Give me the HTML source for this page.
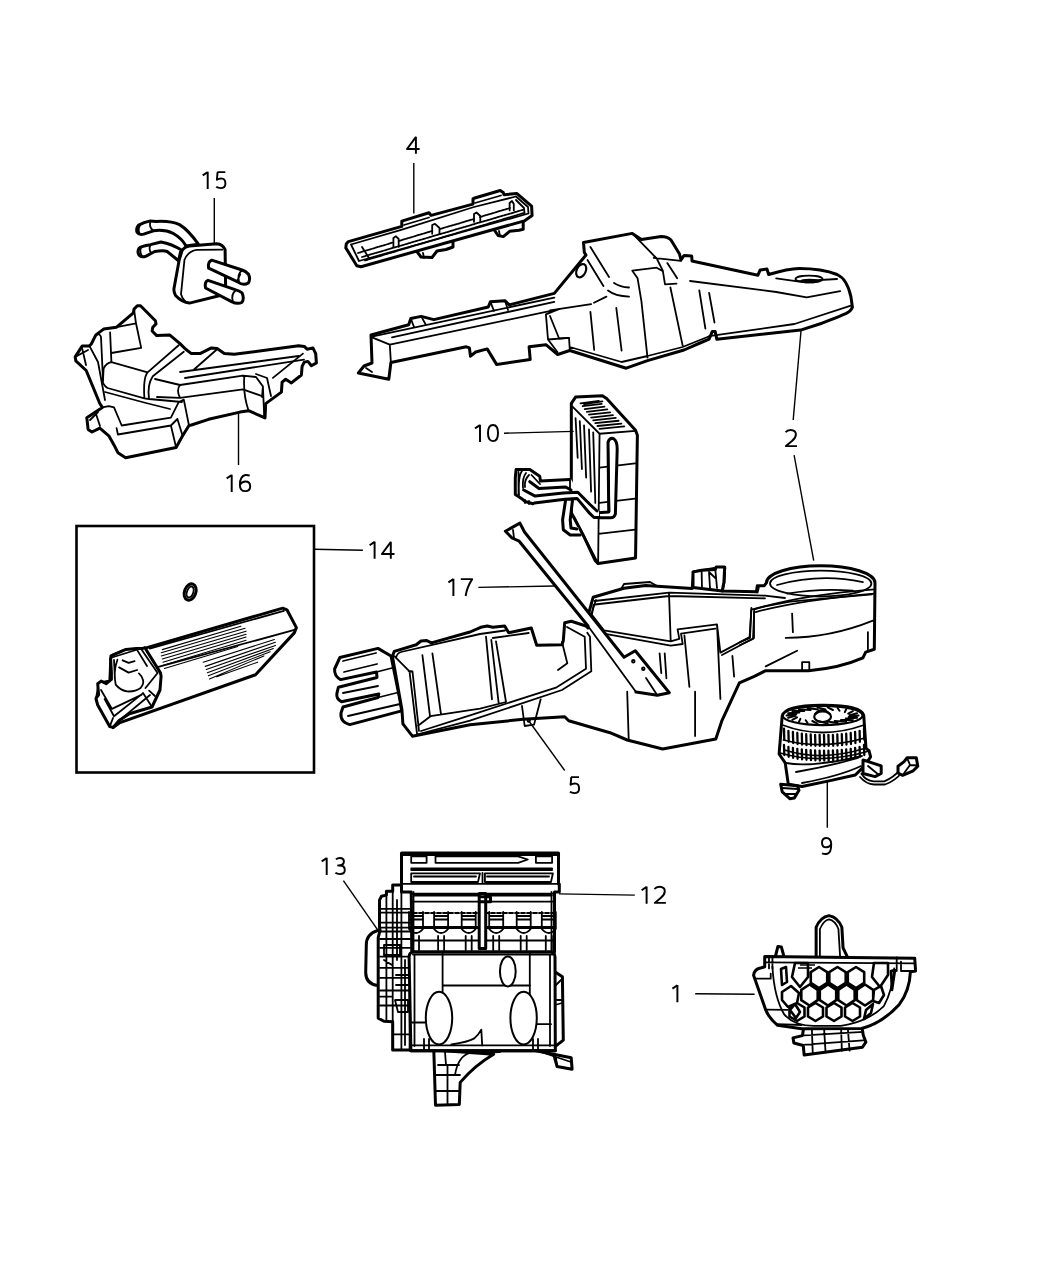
<!DOCTYPE html>
<html><head><meta charset="utf-8">
<style>
html,body{margin:0;padding:0;background:#fff;width:1050px;height:1275px;overflow:hidden}
svg{display:block;position:absolute;left:0;top:0}
text{font-family:"Liberation Sans",sans-serif;font-size:25px;fill:#000}
.ld{stroke:#000;stroke-width:1.4;fill:none}
.p{stroke:#000;stroke-width:3;vector-effect:non-scaling-stroke;fill:#fff;stroke-linejoin:round;stroke-linecap:round}
.t{stroke:#000;stroke-width:1.8;vector-effect:non-scaling-stroke;fill:none;stroke-linejoin:round;stroke-linecap:round}
</style></head><body>
<svg width="1050" height="1275" viewBox="0 0 1050 1275">
<g id="p15" transform="translate(130,210) scale(0.12381)">
<path class="p" d="M398 400 L420 330 Q440 295 480 290 L700 272 Q750 275 768 320 L772 600 Q760 680 720 692 L480 752 Q420 745 368 690 Q350 660 356 630 Z"/>
<path class="t" d="M440 402 Q470 330 540 322 L745 320 M440 402 L412 680 Q430 740 480 752"/>
<path class="p" d="M552 276 Q470 160 400 118 Q330 85 210 92 L165 88 Q110 100 70 122 Q45 150 58 180 Q75 205 110 195 L190 168 Q280 155 350 190 Q420 230 452 290 Z"/>
<path class="t" d="M165 90 Q150 140 190 168 M80 125 Q60 160 80 195"/>
<path class="p" d="M412 322 Q340 275 250 258 L165 280 Q90 290 72 310 Q55 345 78 370 Q100 385 130 372 L200 335 Q270 325 300 335 L392 410 Z"/>
<path class="t" d="M165 282 Q150 320 168 342 M90 300 Q75 335 95 370"/>
<path class="p" d="M660 405 Q625 420 635 470 L870 580 Q915 615 955 590 Q975 560 958 520 Q935 495 905 485 Z"/>
<path class="t" d="M905 487 Q865 520 880 575 M890 520 L870 565"/>
<path class="p" d="M630 568 Q600 580 610 630 L820 740 Q870 765 905 745 Q925 715 905 670 Q880 650 855 645 Z"/>
<path class="t" d="M855 648 Q815 680 830 735"/>
</g>
<g id="p16">
<path class="p" d="M134 309.1 L137.3 305.8 L140.5 305.8 L155.4 320.7 L156 323.9 L152.8 327.2 L152.1 331 L156.7 335.6 L169.6 334.9 L180 343.6 L185.7 349.3 L191.4 353.6 L200 353.6 L211.4 347.9 L217.1 348.6 L224.3 353.6 L234.3 354.3 L298.6 345.7 L304.3 346.4 L307.1 349.3 L312.9 347.9 L315.7 353.6 L316.4 362.9 L311.4 365.7 L307.9 361.4 L304.3 362.1 L302.1 366.4 L301.4 375 L291.4 382.9 L285.7 379.3 L282.1 382.1 L281.4 392.1 L265.7 403.6 L265 417.9 L248.6 410.7 L240 412.1 L208.6 419.3 L191.4 425 L189 425.5 L182.6 435.8 L176.1 447.5 L125.6 457.8 L117.9 452.7 L114 444.9 L108.8 435.8 L99.8 428.1 L92 432 L88.1 429.4 L86.8 417.7 L102.3 407.4 L99.8 403.5 L86.2 370.5 L75.8 360.8 L75.2 356.9 L82.3 345.9 L89.4 345.9 L91.3 344 L95.9 334.9 L103.6 329.1 L116.6 327.2 L133.4 312.9 Z"/>
<path class="t" d="M116.6 327.2 L136 323.3 L141.2 347.9 L111.4 353 M134 309.1 L136 323.3 M110.1 332.3 L111.4 362.1 M95.9 334.9 Q100 333 101 337 L103 380 M89.4 345.9 L98 362 L105 400 M75.2 356.9 L88 350 M82.3 349 L86 365"/>
<path class="t" d="M111.4 362.1 L147.6 372.4 Q143 378 144.4 398.3 L107.5 388 Q102 384 103 380.2 L103.6 368.6 Q106 363 111.4 362.1 Z M147.6 372.4 L178.7 345.2 M152.8 376.3 L183.8 351.7 M144.4 398.3 L149 399 Q147 385 152.8 376.3 M105 392 L146 403 L170 409 M149 399 L182 402"/>
<path class="t" d="M155 379 L180 385 L242.9 375.7 L244.3 376.4 M157 397 L180 397.9 L242.9 389.3 L262.9 396.4 M180 385 Q176 390 180 397.9 M194.3 369.3 L217.1 349.3 M180 372 L298.6 356 M185 378 L304 359.6"/>
<path class="t" d="M244.3 376.4 Q243 395 248.6 410.7 M242.9 375.7 L256 377 L262.9 386.4 L264.3 417.9 M256 374 L267 378 L271 396 M272.9 377.9 L302.9 353.6 M262.9 386.4 L262 397"/>
<path class="t" d="M102.3 407.4 L108.8 406.1 L114 407.4 L121.7 425.5 L170.9 417.7 L178.7 402.2 L183.8 399.6 L189 425.5 M116.6 428.1 L117.9 434.5 L170.9 425.5 L177.4 419 L182.6 435.8 M170.9 425.5 L176 447 M96 414 L100 426 M90 420 L98 412"/>
</g>
<g id="p4">
<path class="p" d="M415 249 L421 257 L432 257.5 L437 251 L446 249.5 L453 247 L453 238 Z"/>
<path class="p" d="M492.9 228 L498.1 235.5 L503.3 236.6 L509.6 231.3 L519 230.3 L523.2 229.2 L523.2 217 Z"/>
<path class="t" d="M423 253 L424 258 M499 231 L500 236"/>
<path class="p" d="M348.4 241.6 L401.8 226.4 L401.8 221.1 L429 212.8 L431.1 215.4 L473 204.1 L473 198.9 L474 198.3 L500.2 190.5 L503.3 192.6 L503.9 194.7 L517 193.6 L531.6 206.2 L532.1 215.6 L524.3 220.9 L361 266.7 L356.8 265.7 L345.8 247.9 L346.3 243.7 Z"/>
<path class="t" d="M351 244.5 L402 229.6 L474 207 L516 196.5 L528 207 L528.5 213.5 M351 244.5 L359 261 L528.5 213.5 M362 247 L369 258 M404 225 L429 217.5 M475 203 L501 195.5 M516 200 L524 208 L524.5 213"/>
<path class="t" d="M358 253 L393 242.5 M398.7 241 L432 231 M440 229 L474 219 M480 217 L510 208 M362 257 L524 209.5 M365 260.5 L524 213" style="stroke-dasharray:2.5 1.2"/>
<path class="t" d="M393.4 246.8 L393.4 238 L396 236.3 L398.7 239 L398.7 246.8 M432.2 233.8 L432.2 225 L435 223.8 L439.5 228 L439.5 234 M474 221.9 L474 214 L476.5 212.5 L480.3 216 L480.3 221.9 M509.6 210.4 L509.6 203 L512 201 L513.8 204 L513.8 210.4"/>
</g>
<g id="p2u">
<path class="p" d="M358.4 373 L364 366 L372 363 L371 335 L408.7 324.8 L410.8 318.5 L421.2 316.4 L433.8 319.6 L488.3 307 L490.4 301.8 L505 300.7 L509.2 304.9 L554.3 293.4 L586 255 L584.3 252.4 L583.5 242.5 L632.3 233.4 L641.4 239.5 L661.2 236.4 C666 236.5 669 238 671 240 L679.5 254 L681 260 L684 255.5 L691.7 256 L692 261 L757.9 275.2 L760.2 269.9 L767 269.1 L768.6 274.5 C780 271 790 268.4 799 268.4 C812 268.4 826 270 837.1 274.5 C845 278 849 288 850.9 296.6 L852.4 307.2 C851 311 849 312 846.3 313.3 C838 317 830 320 821.9 323.2 L800.6 330.1 L716.8 339.2 L715.2 331.6 L712.2 331.6 L709.1 339.2 L700 343 L684 350 L647.5 360.6 L626.2 368.2 L569.8 350.5 L557.6 354.5 L545.9 344.7 L529.1 346.8 L530.2 359.4 L496.7 364.6 L487.2 348.9 L475.7 352 L470.5 356.2 L469.4 347.9 L466.3 346.8 L390.9 362.5 L388.8 379.3 Z"/>
<path class="t" d="M373 336.3 L554.3 297.6 M392 337.4 L554.3 301.8 M372 337.4 L389.8 344.7 L554.3 310.1 M389.8 344.7 L390.9 362.5 M545.9 314.3 L548 339.5 L557.4 352 M545.9 314.3 L559.5 309 M548 339.5 L569 337.8 M410.8 318.5 L414 327 M421.2 316.4 L426 325 M490.4 301.8 L494 311 M505 300.7 L508 310 M366 368 L372 372"/>
<path class="t" d="M632.3 233.4 L656.7 258.5 L662.8 270.7 L665 284.4 L676.5 283.7 M653.6 257.8 L681 260.8 M632.3 270.7 L656.7 267.7 L662 270.7 M632.3 270.7 L637.6 278.3 L641.4 301.2 L647.5 357.6 M590.4 247 L609 277 M587.5 260 L603.4 286 M614 283 Q620 287 629 287.5 M608 290.5 Q615 296 629 296.6 M594 302.7 L606.4 296.6 M550 310.3 L591.1 304.2 M590.4 311.9 L594.2 350 M616.3 308 L621.6 350.7 M670.4 287.5 L682.6 345.4 M699.3 290.5 L705.4 328.6 M709.1 292.8 L714.5 322.5 M667.3 263.1 L677.2 278.3 M569.8 347 L621.6 362 L647.5 356 L682.6 347 L710 336 M550 316 L559.1 338.5 L569 337.8 L569.8 350"/>
<path class="t" d="M690 281 L776.2 292 L806.7 297.3 L840.2 291.2 M776.2 278.3 L797.5 281.3 L837.1 279 M709.1 336.2 L794.5 324 L850.9 305.7"/>
<ellipse class="t" cx="809" cy="279" rx="13.5" ry="3.4"/><ellipse class="t" cx="809.5" cy="281" rx="8" ry="1.2" style="stroke-width:2.2"/>
<ellipse class="t" cx="581.2" cy="270.7" rx="4.5" ry="7" transform="rotate(25 581.2 270.7)" style="stroke-width:2.2"/>
</g>
<g id="p2l">
<path class="p" d="M339.9 657.5 L378 648.4 L391 656 L400 700 L401.6 710.9 L349.8 724.6 Q340 722 341 713 L343 707 L378 697.5 L378.8 694 L341.4 701.7 Q336 699 336.9 693.3 L338.4 687.2 L377 677.5 L376.5 672 L340.7 679.6 Q334 676 334.6 669 Z"/>
<path class="t" d="M344 672 L377 664 M343 693 L378 686 M348 716 L400 704 M343 661 L376 653 M376.5 672 L392 668 M378 697.5 L400 692"/>
<path class="p" d="M392.4 656.2 L394.3 651.4 L416.2 644.8 L421 641 L426.7 640.5 L431.4 642.9 L470 632 L480.7 627.3 L487.3 626 L492.7 627.3 L504.7 626 L508.7 632.7 L531.3 628 L536.7 645.3 L562 644.7 L563.3 640.7 L564.7 622.7 L571.3 621.3 L586 626 L588 628 L588.6 613.6 L593.1 597.3 L623.9 588.2 L645.6 585.5 L692.2 588.4 L693.7 572.1 L718.8 567.7 L724.7 567.7 L723.9 582.3 L722.2 590.9 L756.4 591.7 L757.3 585.7 L757.1 592.1 L758.6 585.7 L764.3 585.7 L766.4 582.9 A54.3 17.2 0 0 1 875 582.9 L874.3 649.3 L865.7 652.1 L862.9 657.9 Q840 668 808.6 670.7 L765.7 670.7 L754.3 676.4 L739.4 682.9 L721.7 721.2 L715.8 739 L662.7 749 L627.2 740 L610 732.7 L568.7 720.7 L564.7 716.7 L523.3 719.3 L470 724.7 L412.4 736.2 L402.9 723.8 L401.9 709.5 Z"/>
<path class="t" d="M394.3 656.2 L409.5 671.4 L417.1 734.3 M408.6 671 L412.5 671.5 L419 731 M396 658 Q397 653 401 652 L480 634 L505 630.5 M492.7 638 L528.7 633 M422.4 655.2 L430 716.2 M432.4 653.3 L441 714.3 M486 636.7 L492 699.3 M491.3 640 L498.7 703.3 M496 641.3 L506 702 M418 725.7 L430.5 716.2 L480 708.6 L506 702"/>
<path class="t" d="M421 731 L470 715.3 L556.7 687.3 L586 668.7 L584.7 636.7 L567 627 M417 734.5 L470 720.7 L562 690 L591.3 671.3 L590 636.7 L587.3 632.7 M562 642 L567.3 663.3 L558 670 M522 706 L524.7 726 L534 724.7 L540.7 699.3"/>
<circle class="t" cx="528.7" cy="720.7" r="1.2"/>
<path class="t" d="M594.4 601 L669 592.6 L765 595.7 L785 598 M595 604.5 L669 596 L765 598.3 M669 593.4 L670.7 640.6 M593.6 604.6 L591.9 614.9 L603.9 630.3 L670.7 641.4 L679.3 638.9 L677.6 629.4 L717 624.3 L720.4 652.6 L749.6 637.1 L751.3 609.7 L765 606.3 L790 601.7 L872 594.3 M603.9 633.7 L670.7 645.7 L682.7 644 L681 633.7 L715.3 628.6 M754 612 L754 638 L722 655 M684.4 635.4 L689.4 686.9 M717 624.3 L720.4 698.9 M659.6 653.4 L661.3 673.1 M664.7 653.4 L666.4 678.3 M732.4 656 L734.1 676.6 M627.2 691.7 L628.7 740 M695.1 691.7 L695.1 736"/>
<path class="p" d="M693 587.4 L693 572 L701.6 570.3 L715.3 569.4 L716.2 566.9 L724.7 566.9 L723.9 582.3 L722.2 590.9 Z"/>
<path class="t" d="M701.6 570.3 L702 588 M709 572 L710 588 M715.3 569.4 L717 588 M709 572 L715.3 578 M621 589.1 L624 584 L650 582 L657 586"/>
<ellipse class="t" cx="820.7" cy="583.6" rx="50.7" ry="12.9"/>
<path class="t" d="M777.1 585 Q820 573 862.9 582.1 M787.1 593.6 Q820 588 852.9 590.7 M754.3 609.3 Q800 595 874.3 589.3 M755.7 612.1 Q800 600 874.3 593.6 M785.7 637.9 Q830 638 872.9 620.7 M792.1 613.6 L792.9 632.1 M867.9 632.1 L867.9 649.3 M765.7 666.4 L797.1 650.7 M802.1 670.7 L802.1 662.1 L809.3 662.1 L809.3 670.7 M751.4 607.9 L750 637.9 L740 642.1 M754.3 609.3 L753 639 L740 645"/>
<path class="t" d="M588 628 L592 612 L596 600"/>
<path d="M505.4 531.2 L519.9 523.1 L524.5 532 L624 657.3 L635.3 650.7 L669.3 692.7 L657.3 695.3 L636 692 L593.3 635.3 L588 626 L519.2 541.2 L512 538 Z" fill="#fff" stroke="none"/>
<path class="p" style="fill:none" d="M588 626 L519.2 541.2 L512 538 L505.4 531.2 L519.9 523.1 L524.5 532 L624 657.3 M624 657.3 L635.3 650.7 L669.3 692.7 L657.3 695.3 L636 692"/>
<path class="t" d="M588 626 L636 692 M513 530 L514 538 M646 678 L657.3 695.3"/>
<circle class="t" cx="633.3" cy="661.3" r="1.3"/><circle class="t" cx="643.3" cy="668.7" r="1.3"/>
</g>
<g id="p10" transform="translate(505,390) scale(0.141129)">
<path class="p" d="M470 95 L500 50 L690 40 L720 60 L925 285 L938 320 L925 1190 L660 1230 L640 1210 L560 1040 L470 870 L470 630 Z"/>
<path class="t" d="M480 120 L670 310 L925 290 M670 310 L660 1225 M670 550 L922 520 M670 800 L922 770 M662 1020 L922 990 M490 900 L650 1210"/>
<path class="t" d="M535 95 L665 78 M550 115 L685 98 M565 135 L705 118 M580 155 L725 138 M595 175 L745 158 M610 195 L765 178 M625 215 L785 198 M640 235 L805 218 M655 255 L825 238 M670 275 L845 258 M560 100 L690 80"/>
<path class="t" d="M500 200 L515 480 M530 220 L545 560 M560 250 L575 620 M595 280 L610 720 M625 300 L640 800"/>
<path class="p" d="M730 370 Q740 335 770 345 Q795 360 795 420 L782 880 Q770 910 740 905 L665 905 L660 870 L735 865 Z"/>
<path class="t" d="M730 370 L740 860"/>
<g transform="scale(7.0857) translate(-505,-390)">
<path d="M516.1 469.5 L529.8 469.5 L539.7 476.3 L540.5 480.9 L569.4 479.4 L571 479 L577.8 492.3 L599 511 L599 517.5 L590 513.7 L577 498.4 L572.5 500 L565.6 500 L562.6 519.8 L563.3 529.7 L570.2 535 L580.1 535 L578 527 L571 528 L570.2 519.8 L572.5 500 L564.9 499.2 L534.4 503 L532.9 503.8 L525.2 501.5 L521.4 498.4 L515.3 494.6 L515.3 477.9 Z" fill="#fff" stroke="none"/>
<path class="p" style="fill:none" d="M516.1 469.5 L529.8 469.5 L539.7 476.3 L540.5 480.9 L569.4 479.4 M515.3 477.9 L515.3 494.6 L521.4 498.4 L525.2 501.5 L532.9 503.8 L534.4 503 L564.9 499.2 L577 498.4 L590 513.7 L594 517.5 L599 517.5 M516.1 469.5 L515.3 477.9 M529.8 481.7 L539 488.5 L565.6 487 L571 490 M523.7 490 L535.1 496.1 L563.3 493.1 L577.8 492.3 L590 504.5 L597 511 M565.6 500 L562.6 519.8 L563.3 529.7 L570.2 535 L580.1 535 M572.5 500 L570.2 519.8 L571 528.1 L577 528.9"/>
<path class="t" d="M518.5 472 L518.5 494 M522 471 Q518 476 519 495 M526 473 Q522 478 523 488 M529 475 Q524 480 525 487 M525 500 L525 503 M529 501 L529 504 M531.5 475 L540 484 M570 480 L570 490"/>
</g>
</g>
<g id="p14" transform="translate(90,570) scale(0.209524)">
<ellipse class="p" cx="478" cy="105" rx="27" ry="40" transform="rotate(20 478 105)"/>
<ellipse class="t" cx="478" cy="105" rx="15" ry="27" transform="rotate(20 478 105)"/>
<path class="p" d="M255 375 L920 182 L940 190 L985 275 L975 300 L790 500 L140 730 L110 752 L30 620 L45 540 L95 530 L100 410 L160 385 L225 380 Z"/>
<path class="t" d="M285 375 L925 195 M300 470 L980 285"/>
<path class="t" style="stroke-width:1.1" d="M340 395 L740 278 M340 410 L745 292 M345 425 L745 307 M348 440 L745 320 M350 455 L745 335 M355 470 L705 365 M345 380 L720 268 M550 460 L885 345 M555 475 L885 360 M560 490 L875 375 M565 505 L860 390 M570 520 L830 410 M605 510 L800 440 M540 440 L880 332"/>
<g transform="scale(4.7727) translate(-90,-570)">
<path class="p" d="M144.9 647.7 L142.3 648.6 L136.3 648.6 L126 649.4 L112.3 655.4 L110.6 658.9 L111.4 672.6 L111.4 679.4 L106.3 683.7 L101.1 681.1 L97.7 683.7 L98.6 694.9 L96 698.3 L97.7 705.1 L109.7 726.6 L113.1 727.4 L119.1 720.6 L129.4 713.7 L152 707 L160 690 L161.1 676 L160.3 672.6 Z"/>
<path class="t" d="M141.5 649.5 L157.6 673 L145.5 688 M144.9 647.7 L160.3 672.6 M136.3 648.6 L147 666 M113.5 657 L136 650 M114 660 L115 680 M117.4 659.7 Q113 672 115.7 684.6 Q120 690 126.9 691.4 Q135 692 140.6 688 Q144 684 143.1 680.3 Q142 676 138.9 673.4 M122.6 660.3 L128.6 662.9 L134.6 661.1 M119.1 667.4 L128.6 672.6 L137.1 670 M101 690 L112 708.9 L141.4 694.9 M104.6 699 L114 716.3 L143.1 693.1 M109.7 726.6 L113 718 M119.1 720.6 L150 695 M143 693 L152 707 M149.1 690.6 L155 696"/>
</g>
</g>
<g id="p9">
<path class="t" d="M861.4 773.8 Q866 781 873.6 781.4 L884.3 781.4 Q893 778 901 769.2 M860 777 Q866 784 874 784.5 L885 784.5 Q895 781 902.5 772" style="stroke-width:1.8"/>
<path class="p" d="M898 766.2 L904.1 761.6 L907.1 757.8 L916.3 757.8 L917.8 766.2 L913.2 770.8 L902.6 775.3 L898 773 Z"/>
<path class="t" d="M907.1 757.8 L910 765 L902.6 775.3 M910 765 L917.8 765.5"/>

<path class="p" d="M779.1 754 L782.2 715.9 Q785 705 822.6 705.2 Q861 705 863.7 715.1 L866 748.4 L869 750.7 L870.6 756.8 L864.5 765.9 L855.3 775 L827.9 781.1 L802 786.5 L788.3 784.2 L785.2 762.9 Z"/>
<path class="p" d="M780.7 784.2 L782.2 791.8 L789.8 798.7 L794.4 797.9 L799 790.3 L797.4 785.7 Z"/>
<path class="t" d="M782 788 L798 789 M785 794 L796 794"/>
<path class="p" d="M863 760 L867.5 761.3 L881.2 765.9 L881.2 773.5 L875.1 776.6 L863 773.5 Z"/>
<path class="t" d="M868 766 L879 775"/>
<ellipse class="t" cx="822.6" cy="715.5" rx="40" ry="9.6" style="stroke-width:2.2"/>
<ellipse class="t" cx="822.6" cy="716.7" rx="8.4" ry="5.3" style="stroke-width:2.2"/>
<path class="t" d="M815 714 Q822 706 830 714" style="stroke-width:2"/>
<path class="t" d="M858.6 715.5 L848.8 717.0 M857.1 717.8 L845.8 718.6 M852.9 719.9 L841.0 719.9 M846.2 721.7 L834.7 720.9 M837.6 723.0 L827.4 721.4 M827.7 723.6 L819.7 721.5 M817.5 723.6 L812.3 721.0 M807.6 723.0 L805.7 720.2 M799.0 721.7 L800.4 718.9 M792.3 719.9 L797.0 717.4 M788.1 717.8 L795.6 715.7 M786.6 715.5 L796.4 714.0 M788.1 713.2 L799.4 712.4 M792.3 711.1 L804.2 711.1 M799.0 709.3 L810.5 710.1 M807.6 708.0 L817.8 709.6 M817.5 707.4 L825.5 709.5 M827.7 707.4 L832.9 710.0 M837.6 708.0 L839.5 710.8 M846.2 709.3 L844.8 712.1 M852.9 711.1 L848.2 713.6 M857.1 713.2 L849.6 715.3 " style="stroke-width:2"/>
<path class="t" d="M782.5 725 Q822 740 864 725 M783.5 740 Q822 750 865 738 M784.5 750 Q822 762 866 748 M780 753 Q822 765 869 751 M796 772 Q830 766 858 758 M802 783 Q840 776 861 766 M786 763 Q810 768 862 756"/>
<path class="t" d="M784.0 728.7 L784.3 739.7 M788.4 730.8 L788.7 741.8 M792.9 732.0 L793.2 743.0 M797.3 733.0 L797.6 744.0 M801.8 733.6 L802.1 744.6 M806.2 734.2 L806.5 745.2 M810.7 734.5 L811.0 745.5 M815.1 734.8 L815.4 745.8 M819.6 734.9 L819.9 745.9 M824.0 735.0 L824.3 746.0 M828.4 734.9 L828.7 745.9 M832.9 734.8 L833.2 745.8 M837.3 734.5 L837.6 745.5 M841.8 734.2 L842.1 745.2 M846.2 733.6 L846.5 744.6 M850.7 733.0 L851.0 744.0 M855.1 732.0 L855.4 743.0 M859.6 730.8 L859.9 741.8 M864.0 728.7 L864.3 739.7 " style="stroke-width:2.3"/>
<path class="t" d="M784.0 745.0 L784.3 755.0 M788.4 746.8 L788.7 756.8 M792.9 747.9 L793.2 757.9 M797.3 748.8 L797.6 758.8 M801.8 749.4 L802.1 759.4 M806.2 749.8 L806.5 759.8 M810.7 750.2 L811.0 760.2 M815.1 750.4 L815.4 760.4 M819.6 750.6 L819.9 760.6 M824.0 750.6 L824.3 760.6 M828.4 750.6 L828.7 760.6 M832.9 750.4 L833.2 760.4 M837.3 750.2 L837.6 760.2 M841.8 749.8 L842.1 759.8 M846.2 749.4 L846.5 759.4 M850.7 748.8 L851.0 758.8 M855.1 747.9 L855.4 757.9 M859.6 746.8 L859.9 756.8 M864.0 745.0 L864.3 755.0 " style="stroke-width:2.3"/>
</g>
<g id="p12">
<path class="p" d="M433.8 1050 L435.5 1105.3 L459.3 1104.4 L460.2 1082.4 Q475 1065 493.7 1054.2 Z"/>
<path class="t" d="M438 1065 L459 1065 M447.5 1065 L447.5 1104.5 M436 1075 L460 1075 M436 1091 L460 1091 M455 1075 Q458 1056 470 1053 L500 1052 M445 1052 L446 1065"/>
<path class="p" d="M554.4 971.4 L562.4 976.7 L563.3 1040.1 L554.4 1047.2 Z"/>
<path class="t" d="M556 985 L561 980 M556 1000 L562 1000 M555 1005 L562 1003"/>
<path class="p" d="M392.7 885 L392.7 891.3 L386.4 891.3 L386.4 895.1 L381.4 896.3 L379.5 900.1 L379.5 927.7 L380.1 930.2 L378.2 937.7 L378.2 1018.1 L383.9 1021.2 L392.7 1021.8 L392.7 1050 L412 1050 L412 885 Z"/>
<path class="p" d="M378.2 930.2 Q366 934 366.3 945 L365.7 972.9 Q366 984 377.6 985.4" style="fill:none"/>
<path class="t" d="M386.4 895 L386.4 1020 M392.7 891 L392.7 1050 M401.4 885 L401.4 1050 M397 900 L397 960 M405 960 L405 1045 M380 908.9 L410 908.9 M380 912.6 L410 912.6 M380 922.7 L410 922.7 M380 931.5 L410 931.5 M380 939 L410 939 M380 947.8 L410 947.8 M380 956.6 L410 956.6 M380 967.9 L410 967.9 M380 977.9 L410 977.9 M380 990.5 L410 990.5 M380 1005.5 L410 1005.5 M393 1034.4 L410 1034.4  M381 927.7 L411 927.7 M380 996.7 L392 996.7 M395 1000 L408 1000 L408 1012 L398 1012 Z M384 945 L400 945 L400 955 L384 955 Z M384 960 L392 965 M396 975 L408 975 M396 985 L408 985"/>
<path class="t" d="M410.2 955 L410.2 1050" style="stroke-width:3"/>
<path class="p" d="M401.5 853.1 L558.5 853.1 L558.5 883.9 L559.3 883.9 L559.3 892 L554.5 892 L554.5 952 L412 952 L411.2 892 L401.5 892 Z"/>
<path class="t" d="M401.5 854.5 L558.5 854.5" style="stroke-width:3"/>
<path class="t" d="M411.2 856.3 L426.6 856.3 L426.6 862.8 L411.2 862.8 Z M435.5 856.3 L518.1 856.3 L527.8 859.5 L518.1 862.8 L435.5 862.8 Z M535.9 856.3 L552.1 856.3 L552.1 862.8 L535.9 862.8 Z M411.2 868.5 L552.1 868.5 M411.2 870 L552.1 870 M411.2 873.3 L480 873.3 L478 882 L411.2 882 Z M484.9 873.3 L552.9 873.3 L551 882 L484.9 882 Z M414 876.5 L476 876.5 M487 876.5 L549 876.5 M482.5 873 L482.5 883 M401.5 883.9 L559.3 883.9"/>
<path class="t" d="M411.2 893.6 L554.5 893.6 M414 895.5 L552 895.5 M411.2 901.7 L554.5 901.7 M413 940.5 L553 940.5 M413 951.9 L553 951.9 M413.5 892 L413.5 952 M551.5 892 L551.5 952" />
<path class="t" d="M413 913 L553 913" style="stroke-dasharray:4 2"/>
<path class="t" d="M411.2 927.6 L554.5 927.6" style="stroke-width:3"/>
<path class="t" d="M409 912 L409 929 Q416 937 423 929 L423 912 M410 916 L422 916 M410 919.5 L422 919.5 M413 936 L413 950 M419 936 L419 950 M434.1 912 L434.1 929 Q441.1 937 448.1 929 L448.1 912 M435.1 916 L447.1 916 M435.1 919.5 L447.1 919.5 M438.1 936 L438.1 950 M444.1 936 L444.1 950 M461.7 912 L461.7 929 Q468.7 937 475.7 929 L475.7 912 M462.7 916 L474.7 916 M462.7 919.5 L474.7 919.5 M465.7 936 L465.7 950 M471.7 936 L471.7 950 M489.2 912 L489.2 929 Q496.2 937 503.2 929 L503.2 912 M490.2 916 L502.2 916 M490.2 919.5 L502.2 919.5 M493.2 936 L493.2 950 M499.2 936 L499.2 950 M516.7 912 L516.7 929 Q523.7 937 530.7 929 L530.7 912 M517.7 916 L529.7 916 M517.7 919.5 L529.7 919.5 M520.7 936 L520.7 950 M526.7 936 L526.7 950 M541.8 912 L541.8 929 Q548.8 937 555.8 929 L555.8 912 M542.8 916 L554.8 916 M542.8 919.5 L554.8 919.5 M545.8 936 L545.8 950 M551.8 936 L551.8 950 "/>
<path class="p" d="M479.2 893.6 L485.7 893.6 L485.7 948.6 L479.2 948.6 Z M479.2 896.8 L490.5 896.8 L490.5 901.7 L479.2 901.7 Z"/>
<path class="p" d="M414 952 L550 952 Q555 952 555 957 L555.3 1050.7 L410.9 1050.7 L409.1 957 Q409.1 952 414 952 Z"/>
<path class="t" d="M413 954.5 L553 954.5 M414.5 955 L414.5 1046 M550 955 L550 1046 M412 1045.4 L554 1045.4 M442.6 952 L442.6 985.5 L529.8 985.5 L529.8 1000 M442.6 985.5 L442.6 992 M412 1022.5 L425 1022.5 M537 1024.2 L551 1024.2"/>
<path class="t" d="M410.9 1050.7 L555.3 1050.7" style="stroke-width:3"/>
<path class="t" d="M529.8 952 L529.8 985.5"/>
<path class="p" d="M536 1050.7 L571.2 1057.8 L572.1 1069.2 L557.1 1066.6 L553.6 1054.2 Z"/>
<path class="t" d="M541 1052 L571 1062 M557.1 1066.6 L556 1058"/>

<ellipse class="t" cx="439" cy="1018.1" rx="13.2" ry="26.4" style="fill:#fff;stroke-width:2"/>
<ellipse class="t" cx="523.6" cy="1018.1" rx="13.2" ry="26.4" style="fill:#fff;stroke-width:2"/>
<ellipse class="t" cx="507.8" cy="971.4" rx="7.9" ry="15" style="fill:#fff;stroke-width:2"/>
<path class="t" d="M451.4 1044.5 Q468 1042 474.3 1038.4 Q479 1034 481.3 1029.6 L482.2 1045.4 M424 1039 L424 1050 M429 1039 L429 1050 M533 1039 L533 1050 M538 1039 L538 1050"/>
</g>
<g id="p1" transform="translate(745,905) scale(0.171429)">
<path class="p" d="M415 312 L415 130 Q440 70 490 62 Q540 70 565 130 L572 250 L600 308 Z"/>
<path class="t" d="M437 305 L437 140 Q460 88 490 84 Q525 90 545 140 L555 305"/>
<path class="p" d="M175 310 L192 242 L212 245 L230 310 Z"/>
<path class="p" d="M280 775 L335 762 L345 700 L680 700 L690 760 L705 800 L685 830 L345 875 L340 820 L285 805 Z"/>
<path class="t" d="M345 760 L690 740 M350 815 L690 790 M460 700 L470 860 M560 700 L565 850 M600 720 L610 850 M390 720 L395 860"/>
<path class="p" d="M50 410 Q55 375 90 368 L115 360 L115 300 L990 310 L995 385 L965 390 Q960 500 900 580 Q800 690 680 720 L330 722 L190 702 Q140 660 120 610 Z"/>
<path class="t" d="M115 335 L990 340 M885 305 L885 385 M910 330 L910 385 L990 385 M140 300 L140 370 M160 300 L160 370 M60 430 L150 430 L150 400"/>
<path class="t" d="M160 360 Q170 540 230 640 Q290 705 400 705 L560 705 Q720 680 810 590 Q860 500 870 370"/>
<path class="t" d="M120 610 L250 612 M185 695 L330 700"/>
<g transform="scale(5.833) translate(-745,-905)" style="">
<path d="M819.0 967.0 L827.2 972.2 L827.2 982.8 L819.0 988.0 L810.8 982.8 L810.8 972.2 Z M837.5 967.0 L845.7 972.2 L845.7 982.8 L837.5 988.0 L829.3 982.8 L829.3 972.2 Z M856.0 967.0 L864.2 972.2 L864.2 982.8 L856.0 988.0 L847.8 982.8 L847.8 972.2 Z M809.5 984.5 L817.7 989.8 L817.7 1000.2 L809.5 1005.5 L801.3 1000.2 L801.3 989.8 Z M828.0 984.5 L836.2 989.8 L836.2 1000.2 L828.0 1005.5 L819.8 1000.2 L819.8 989.8 Z M846.5 984.5 L854.7 989.8 L854.7 1000.2 L846.5 1005.5 L838.3 1000.2 L838.3 989.8 Z M865.0 984.5 L873.2 989.8 L873.2 1000.2 L865.0 1005.5 L856.8 1000.2 L856.8 989.8 Z M797.0 1003.0 L804.5 1007.5 L804.5 1016.5 L797.0 1021.0 L789.5 1016.5 L789.5 1007.5 Z M815.5 1003.0 L823.0 1007.5 L823.0 1016.5 L815.5 1021.0 L808.0 1016.5 L808.0 1007.5 Z M834.0 1003.0 L841.5 1007.5 L841.5 1016.5 L834.0 1021.0 L826.5 1016.5 L826.5 1007.5 Z M852.5 1003.0 L860.0 1007.5 L860.0 1016.5 L852.5 1021.0 L845.0 1016.5 L845.0 1007.5 Z M795 963 L808 963 L808 977 L800 987 L792 977 Z M874 963 L888 963 L888 975 L880 987 L872 977 Z M781 969 L786 967 L787 982 L782 985 Z M891 971 L895 970 L892 990 Z M782 992 L791 986 L799 993 L797 1003 L788 1007 L782 1000 Z M874 990 L881 986 L884 995 L879 1003 L873 1001 Z M790 1010 L795 1004 L800 1012 L796 1018 Z M866 1010 L873 1004 L871 1013 L864 1019 Z" fill="none" stroke="#000" stroke-width="2.6" vector-effect="non-scaling-stroke" stroke-linejoin="round"/>
<path d="M800 965 L815 965 M798 968 L812 968" fill="none" stroke="#000" stroke-width="1.6" vector-effect="non-scaling-stroke"/>
</g>
</g>
<g id="labels" fill="none" stroke="#000" stroke-width="1.95" stroke-linejoin="round">
<path transform="translate(201.7 189)" d="M1 -13.6 L6 -16.9 M6 -17.2 L6 0"/>
<path transform="translate(215.7 189)" d="M1.6 -16.9 L9.6 -16.9 M1.9 -17 L1.2 -9.2 Q3.3 -10.6 5.3 -10.6 Q9.7 -10.4 9.7 -5.6 Q9.7 -0.9 4.8 -0.9 Q2.3 -0.9 0.5 -2.2"/>
<path transform="translate(406 153.8)" d="M10 -17 L1 -4.8 L13.6 -4.8 M9.9 -17 L9.9 0"/>
<path transform="translate(784.7 447)" d="M0.9 -14.8 Q2.5 -17.1 5.9 -17.1 Q11.2 -17 11.2 -12.6 Q11.2 -9.4 7.3 -6 L1.2 -0.9 L12.3 -0.9"/>
<path transform="translate(474 442)" d="M1 -13.6 L6 -16.9 M6 -17.2 L6 0"/>
<path transform="translate(487 442)" d="M6 -17.1 Q1 -17.1 1 -9 Q1 -0.9 6 -0.9 Q11 -0.9 11 -9 Q11 -17.1 6 -17.1 Z"/>
<path transform="translate(225.7 492)" d="M1 -13.6 L6 -16.9 M6 -17.2 L6 0"/>
<path transform="translate(238.9 492)" d="M10.8 -16.3 Q8.5 -17.3 6.5 -17 Q1 -16 1 -7 Q1 -0.9 6.3 -0.9 Q11.3 -0.9 11.3 -5.8 Q11.3 -10.6 6.5 -10.6 Q3 -10.6 1.2 -7.5"/>
<path transform="translate(368.6 558.8)" d="M1 -13.6 L6 -16.9 M6 -17.2 L6 0"/>
<path transform="translate(380.9 558.8)" d="M10 -17 L1 -4.8 L13.6 -4.8 M9.9 -17 L9.9 0"/>
<path transform="translate(447.4 596)" d="M1 -13.6 L6 -16.9 M6 -17.2 L6 0"/>
<path transform="translate(460 596)" d="M0.8 -16.9 L12.2 -16.9 Q7 -9 5.6 0"/>
<path transform="translate(569.4 794)" d="M1.6 -16.9 L9.6 -16.9 M1.9 -17 L1.2 -9.2 Q3.3 -10.6 5.3 -10.6 Q9.7 -10.4 9.7 -5.6 Q9.7 -0.9 4.8 -0.9 Q2.3 -0.9 0.5 -2.2"/>
<path transform="translate(821 854.9)" d="M10.2 -11 Q9.8 -16.9 5.4 -16.9 Q1 -16.9 1 -12.2 Q1 -7.6 5.2 -7.6 Q9 -7.6 10.2 -11 Q10.6 -1 5 -0.9 Q3 -0.8 1 -1.6"/>
<path transform="translate(320.7 875)" d="M1 -13.6 L6 -16.9 M6 -17.2 L6 0"/>
<path transform="translate(334.9 875)" d="M1 -15.6 Q2.6 -17.1 5 -17.1 Q9 -17.1 9 -13.5 Q9 -9.6 3.2 -9.5 L4.5 -9.5 Q9.9 -9.5 9.9 -5.1 Q9.9 -0.9 4.8 -0.9 Q2.4 -0.9 0.5 -2.2"/>
<path transform="translate(640.6 903.8)" d="M1 -13.6 L6 -16.9 M6 -17.2 L6 0"/>
<path transform="translate(653.6 903.8)" d="M0.9 -14.8 Q2.5 -17.1 5.9 -17.1 Q11.2 -17 11.2 -12.6 Q11.2 -9.4 7.3 -6 L1.2 -0.9 L12.3 -0.9"/>
<path transform="translate(671.4 1002.2)" d="M1 -13.6 L6 -16.9 M6 -17.2 L6 0"/>
</g>
<g id="leaders" class="ld">
<path d="M214.3 198V243.6"/>
<path d="M238.5 465V413.4"/>
<path d="M413.8 163V213.4"/>
<path d="M801 331L793.2 420"/>
<path d="M794.1 455.2L813.7 560.6"/>
<path d="M504 433.2L573.7 431.4"/>
<path d="M314.3 549.2L362.9 550.3"/>
<path d="M478.3 587.4L554.3 586"/>
<path d="M528.9 721L564.7 770.5"/>
<path d="M827.3 780.3V827.7"/>
<path d="M343.4 880.6L379.4 932.4"/>
<path d="M559 893.9L634.8 895.1"/>
<path d="M695.2 993.7L754.6 994.3"/>
</g>
<rect x="76.5" y="526" width="237.5" height="246.5" fill="none" stroke="#000" stroke-width="2.6"/>
</svg>
</body></html>
